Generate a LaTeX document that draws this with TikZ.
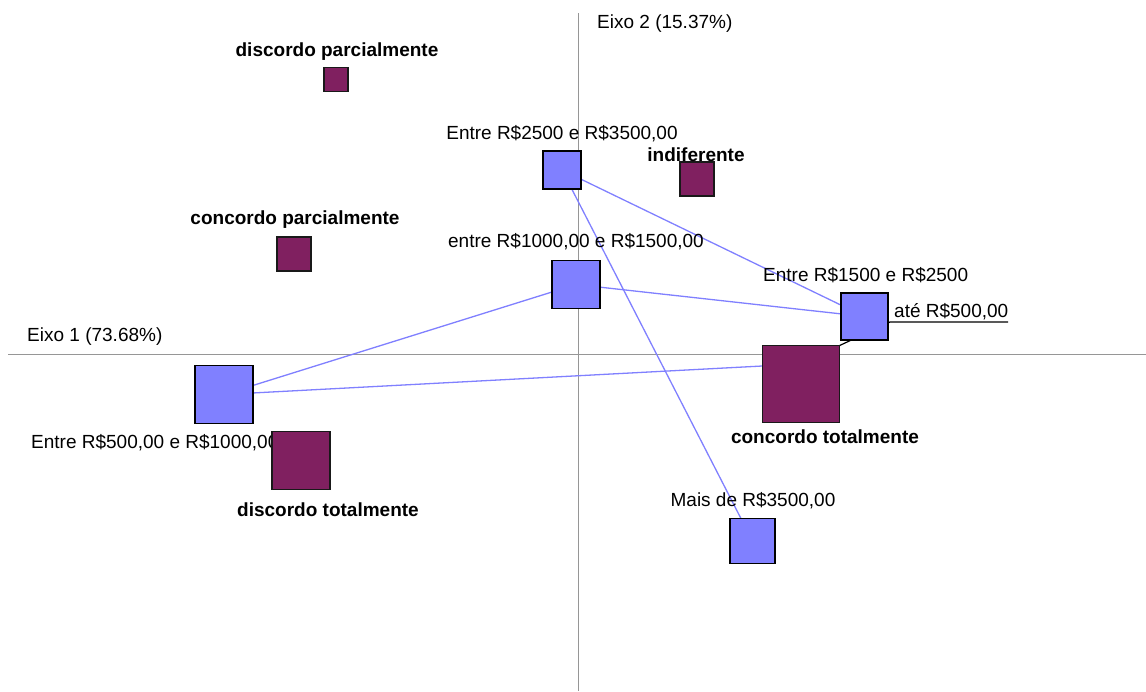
\documentclass[tikz,border=0pt]{standalone}
\usepackage{fontspec}
\setmainfont{Liberation Sans}
\definecolor{bluebox}{RGB}{128,128,255}
\definecolor{purplebox}{RGB}{128,32,96}
\definecolor{axisgray}{RGB}{150,150,150}
\tikzset{
  axisline/.style={draw=axisgray, line width=1pt},
  link/.style={draw=bluebox, line width=1.3pt},
  leader/.style={draw=black, line width=1.2pt},
  bbox/.style={draw=black, fill=bluebox, line width=1.5pt, inner sep=0pt, minimum width=#1, minimum height=#1},
  pbox/.style={draw=black!90, fill=purplebox, line width=1.5pt, inner sep=0pt, minimum width=#1, minimum height=#1},
  lbl/.style={inner sep=0pt, anchor=base, font=\fontsize{19}{22}\selectfont},
  blbl/.style={inner sep=0pt, anchor=base, font=\fontsize{19}{22}\selectfont\bfseries},
}
\begin{document}
\begin{tikzpicture}[x=1pt,y=-1pt]
\useasboundingbox (0,0) rectangle (1146,691);
% axes
\coordinate (h1) at (8,354);
\coordinate (h2) at (1146,354);
\coordinate (v1) at (578,13);
\coordinate (v2) at (578,691);
\draw[axisline] (h1) -- (h2);
\draw[axisline] (v1) -- (v2);
\node[lbl, anchor=base west] (eixo1) at (27,341) {Eixo 1 (73.68\%)};
\node[lbl, anchor=base west] (eixo2) at (597,28) {Eixo 2 (15.37\%)};
% point positions (blue)
\coordinate (ate) at (800,364);
\coordinate (c500) at (224,394.5);
\coordinate (c1000) at (576,284.5);
\coordinate (c1500) at (864.5,316.5);
\coordinate (c2500) at (562,170);
\coordinate (c3500) at (752.5,541);
% connectors
\draw[link] (ate) -- (c500);
\draw[link] (c500) -- (c1000);
\draw[link] (c1000) -- (c1500);
\draw[link] (c1500) -- (c2500);
\draw[link] (c2500) -- (c3500);
% leader for hidden point
\coordinate (ul1) at (890,322);
\coordinate (ul2) at (1008,322);
\draw[leader] (ate) -- (ul1) -- (ul2);
% blue labels
\node[lbl, anchor=base west] (l500) at (31,448) {Entre R\$500,00 e R\$1000,00};
\node[lbl] (l1000) at (576,247) {entre R\$1000,00 e R\$1500,00};
\node[lbl, anchor=base west] (l1500) at (763,281) {Entre R\$1500 e R\$2500};
\node[lbl] (l2500) at (562,139) {Entre R\$2500 e R\$3500,00};
\node[lbl] (l3500) at (753,506) {Mais de R\$3500,00};
\node[lbl, anchor=base west] (late) at (894,317) {até R\$500,00};
% blue boxes
\node[bbox=58pt] (b500) at (c500) {};
\node[bbox=48pt] (b1000) at (c1000) {};
\node[bbox=47pt] (b1500) at (c1500) {};
\node[bbox=38pt] (b2500) at (c2500) {};
\node[bbox=45pt] (b3500) at (c3500) {};
% purple boxes
\node[pbox=24pt] (dp) at (336,79.5) {};
\node[pbox=34pt] (cp) at (294,254) {};
\node[pbox=34pt] (ind) at (697,179) {};
\node[pbox=77pt] (ct) at (801,384) {};
\node[pbox=58pt] (dt) at (301,460.5) {};
% purple labels
\node[blbl] (ldp) at (337,56) {discordo parcialmente};
\node[blbl] (lcp) at (295,224) {concordo parcialmente};
\node[blbl] (lind) at (696,161) {indiferente};
\node[blbl] (lct) at (825,443) {concordo totalmente};
\node[blbl] (ldt) at (328,516) {discordo totalmente};
\end{tikzpicture}
\end{document}
